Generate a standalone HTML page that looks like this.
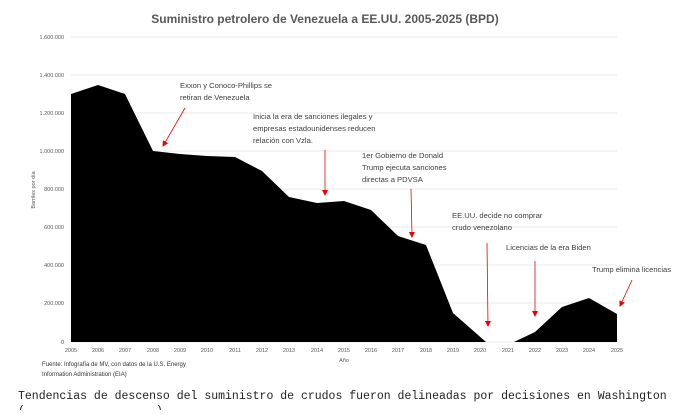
<!DOCTYPE html>
<html><head><meta charset="utf-8"><style>
body{margin:0;background:#fff;width:700px;height:410px;overflow:hidden}
svg text{font-family:"Liberation Sans",sans-serif}
</style></head><body>
<svg width="700" height="410" viewBox="0 0 700 410" xmlns="http://www.w3.org/2000/svg">
<defs><marker id="a" markerWidth="6" markerHeight="6" refX="5" refY="3" orient="auto" markerUnits="userSpaceOnUse"><path d="M0,0 L6,3 L0,6z" fill="#e00"/></marker></defs>
<text x="325" y="23" text-anchor="middle" font-size="12" font-weight="bold" fill="#595959">Suministro petrolero de Venezuela a EE.UU. 2005-2025 (BPD)</text>
<g stroke="#e0e0e0" stroke-width="0.8">
<line x1="71" x2="617" y1="37" y2="37"/><line x1="71" x2="617" y1="75" y2="75"/><line x1="71" x2="617" y1="113" y2="113"/><line x1="71" x2="617" y1="151" y2="151"/><line x1="71" x2="617" y1="189" y2="189"/><line x1="71" x2="617" y1="227" y2="227"/><line x1="71" x2="617" y1="265" y2="265"/><line x1="71" x2="617" y1="303" y2="303"/><line x1="71" x2="617" y1="342" y2="342"/>
</g>
<g font-size="5.5" fill="#595959" text-anchor="end">
<text x="64" y="39">1.600.000</text><text x="64" y="77">1.400.000</text><text x="64" y="115">1.200.000</text><text x="64" y="153">1.000.000</text><text x="64" y="191">800.000</text><text x="64" y="229">600.000</text><text x="64" y="267">400.000</text><text x="64" y="305">200.000</text><text x="64" y="344">0</text>
</g>
<polygon fill="#000" points="71,342 71,94 98,85 125,94 153,151 180,154 207,156 235,157 262,171 289,197 317,203 344,201 371,210 398,236 426,245 453,313 486,342 514,342 535,332 562,307 589,298 617,314 617,342"/>
<g font-size="5.5" fill="#595959" text-anchor="middle">
<text x="71" y="352">2005</text><text x="98" y="352">2006</text><text x="125" y="352">2007</text><text x="153" y="352">2008</text><text x="180" y="352">2009</text><text x="207" y="352">2010</text><text x="235" y="352">2011</text><text x="262" y="352">2012</text><text x="289" y="352">2013</text><text x="317" y="352">2014</text><text x="344" y="352">2015</text><text x="371" y="352">2016</text><text x="398" y="352">2017</text><text x="426" y="352">2018</text><text x="453" y="352">2019</text><text x="480" y="352">2020</text><text x="508" y="352">2021</text><text x="535" y="352">2022</text><text x="562" y="352">2023</text><text x="589" y="352">2024</text><text x="617" y="352">2025</text>
<text x="344" y="362">Año</text>
<text transform="translate(35,190) rotate(-90)" font-size="5.5">Barriles por día</text>
</g>
<g font-size="6" fill="#333">
<text x="42" y="366">Fuente: Infografía de MV, con datos de la U.S. Energy</text>
<text x="42" y="376">Information Administration (EIA)</text>
</g>
<g font-size="7.6" fill="#404040">
<text x="180" y="88">Exxon y Conoco-Phillips se</text><text x="180" y="100">retiran de Venezuela</text>
<text x="253" y="119">Inicia la era de sanciones ilegales y</text><text x="253" y="131">empresas estadounidenses reducen</text><text x="253" y="143">relación con Vzla.</text>
<text x="362" y="158">1er Gobierno de Donald</text><text x="362" y="170">Trump ejecuta sanciones</text><text x="362" y="182">directas a PDVSA</text>
<text x="452" y="218">EE.UU. decide no comprar</text><text x="452" y="230">crudo venezolano</text>
<text x="506" y="250">Licencias de la era Biden</text>
<text x="592" y="272">Trump elimina licencias</text>
</g>
<g stroke="#e00" stroke-width="0.8" marker-end="url(#a)">
<line x1="185" y1="108" x2="163" y2="146"/>
<line x1="325" y1="150" x2="325" y2="195"/>
<line x1="411" y1="189" x2="412" y2="237"/>
<line x1="487" y1="243" x2="488" y2="326"/>
<line x1="535" y1="261" x2="535" y2="316"/>
<line x1="632" y1="280" x2="620" y2="306"/>
</g>
<text x="18" y="399" font-size="11.5" fill="#222" style="font-family:'Liberation Mono',monospace">Tendencias de descenso del suministro de crudos fueron delineadas por decisiones en Washington</text>
<text x="18" y="414" font-size="11.5" fill="#222" style="font-family:'Liberation Mono',monospace;white-space:pre" xml:space="preserve">(                   )</text>
</svg>
</body></html>
